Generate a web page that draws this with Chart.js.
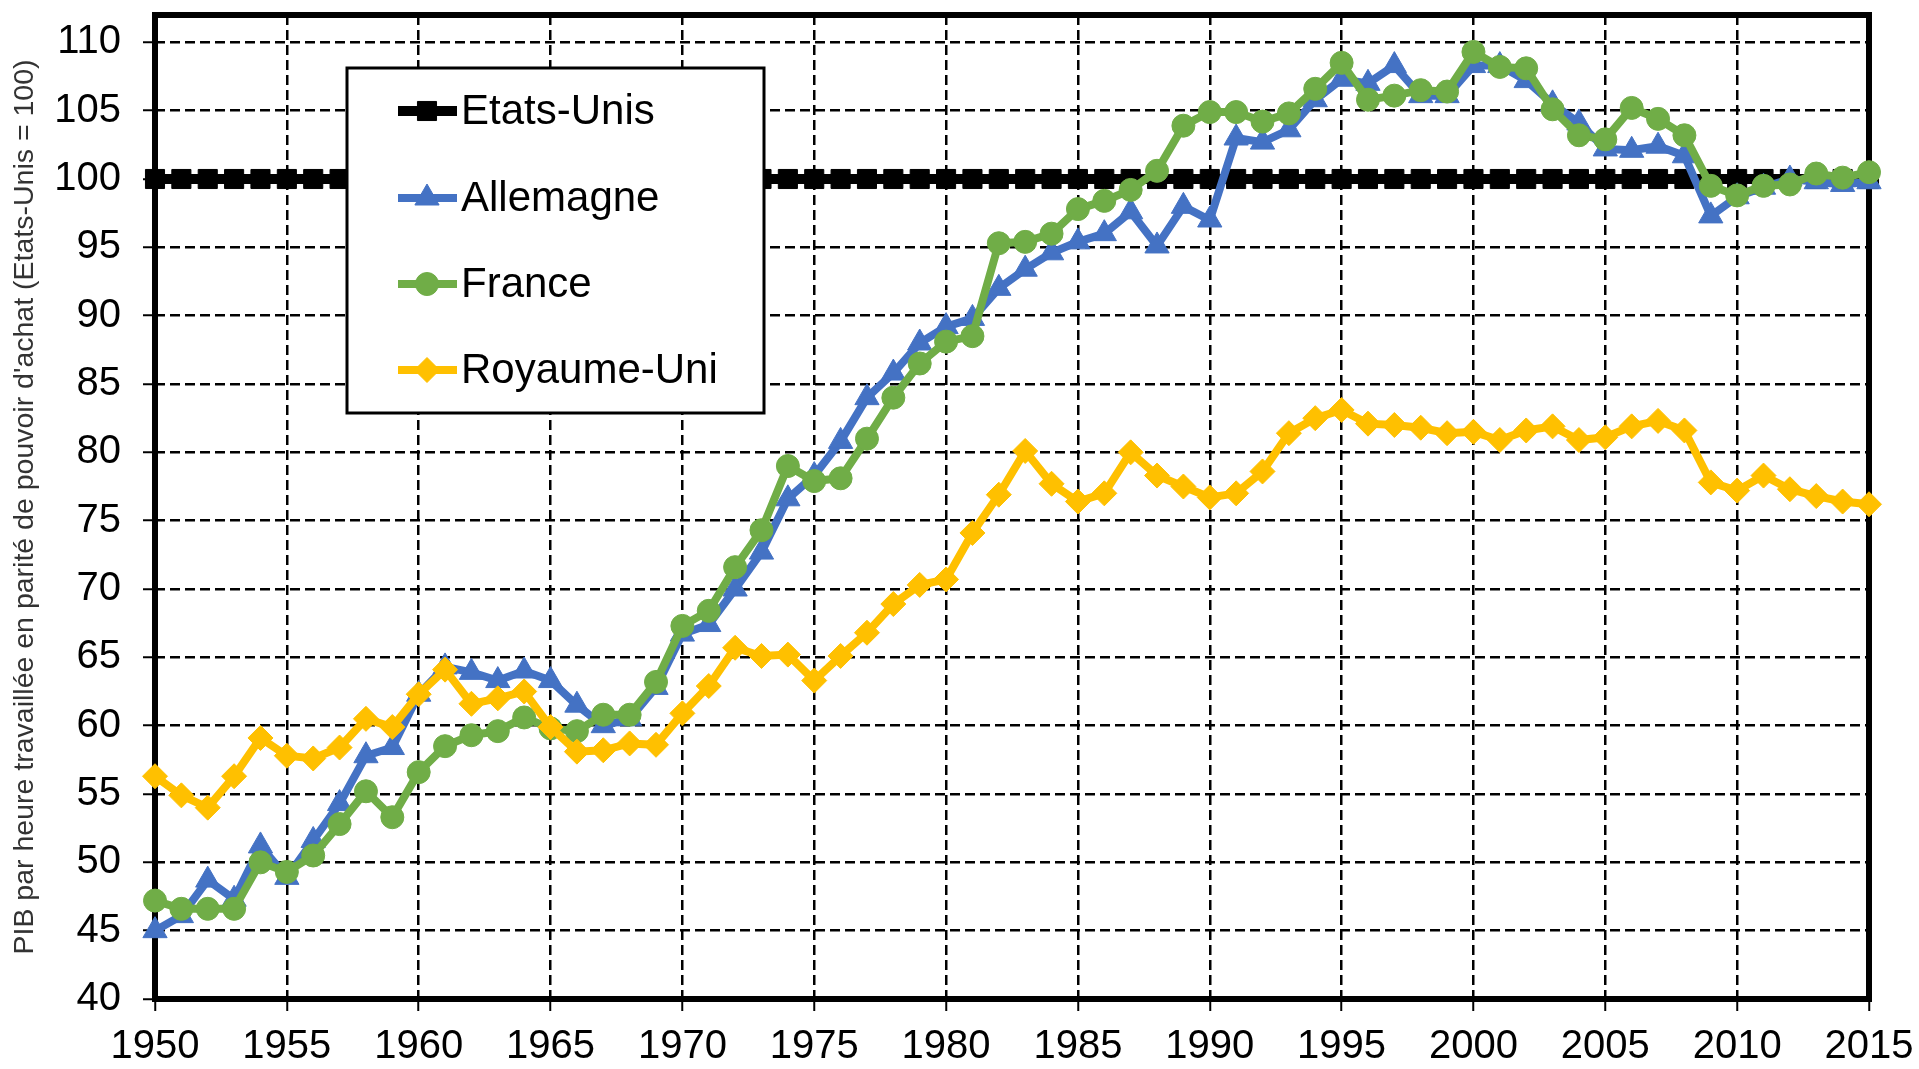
<!DOCTYPE html>
<html>
<head>
<meta charset="utf-8">
<script src="https://cdn.jsdelivr.net/npm/chart.js@4.4.1/dist/chart.umd.min.js"></script>
<style>
  html, body { margin: 0; padding: 0; background: #fff; }
  #wrap { width: 1919px; height: 1069px; position: relative; }
</style>
</head>
<body>
<div id="wrap"><canvas id="c"></canvas></div>
<script>
const years = [1950,1951,1952,1953,1954,1955,1956,1957,1958,1959,
  1960,1961,1962,1963,1964,1965,1966,1967,1968,1969,
  1970,1971,1972,1973,1974,1975,1976,1977,1978,1979,
  1980,1981,1982,1983,1984,1985,1986,1987,1988,1989,
  1990,1991,1992,1993,1994,1995,1996,1997,1998,1999,
  2000,2001,2002,2003,2004,2005,2006,2007,2008,2009,
  2010,2011,2012,2013,2014,2015];

const etatsUnis = [100,100,100,100,100,100,100,100,100,100,
  100,100,100,100,100,100,100,100,100,100,
  100,100,100,100,100,100,100,100,100,100,
  100,100,100,100,100,100,100,100,100,100,
  100,100,100,100,100,100,100,100,100,100,
  100,100,100,100,100,100,100,100,100,100,
  100,100,100,100,100,100];

const allemagne = [45.0,46.1,48.7,47.3,51.2,48.9,51.6,54.3,57.8,58.4,
  62.3,64.3,63.9,63.3,64.0,63.3,61.5,60.0,60.5,62.8,
  66.7,67.4,70.0,72.7,76.6,78.3,80.8,84.0,85.8,88.0,
  89.2,89.8,92.0,93.4,94.6,95.4,96.0,97.6,95.1,98.0,
  97.0,103.0,102.7,103.6,105.8,107.3,107.0,108.3,106.1,106.1,
  108.3,108.3,107.2,105.5,104.1,102.2,102.1,102.4,101.7,97.3,
  98.7,99.4,100.0,99.8,99.6,99.8];

const france = [47.2,46.6,46.6,46.6,50.0,49.3,50.5,52.8,55.2,53.3,
  56.6,58.5,59.3,59.6,60.6,59.8,59.6,60.8,60.8,63.2,
  67.3,68.4,71.6,74.3,79.0,77.9,78.1,81.0,84.0,86.5,
  88.1,88.5,95.3,95.4,96.0,97.8,98.4,99.2,100.6,103.9,
  104.9,104.9,104.2,104.8,106.6,108.5,105.8,106.1,106.5,106.4,
  109.3,108.2,108.1,105.1,103.2,102.9,105.2,104.4,103.2,99.5,
  98.8,99.5,99.6,100.4,100.1,100.5];

const royaumeUni = [56.3,54.9,54.0,56.3,59.1,57.8,57.6,58.4,60.5,59.9,
  62.3,64.1,61.6,62.0,62.5,59.9,58.1,58.2,58.7,58.6,
  60.9,62.9,65.7,65.1,65.2,63.3,65.1,66.8,68.9,70.3,
  70.7,74.1,76.9,80.1,77.7,76.4,77.0,80.0,78.3,77.5,
  76.7,77.0,78.6,81.4,82.5,83.1,82.1,82.0,81.8,81.4,
  81.5,80.9,81.6,81.9,80.9,81.1,81.9,82.3,81.6,77.8,
  77.2,78.3,77.3,76.8,76.4,76.2];

const seriesNames = ['Etats-Unis','Allemagne','France','Royaume-Uni'];
const yAxisTitle = "PIB par heure travaillée en parité de pouvoir d'achat (Etats-Unis = 100)";

const FONT = '"Liberation Sans", Arial, Helvetica, sans-serif';
const toXY = arr => arr.map((v, i) => ({x: years[i], y: v}));

const styles = [
  {color: '#000000', pointStyle: 'rect', radius: 13.5, width: 10, order: 4},
  {color: '#4472C4', pointStyle: 'triangle', radius: 14, width: 8, order: 3},
  {color: '#70AD47', pointStyle: 'circle', radius: 11.5, width: 8, order: 2},
  {color: '#FFC000', pointStyle: 'rectRot', radius: 12.5, width: 8, order: 1}
];
const values = [etatsUnis, allemagne, france, royaumeUni];

const datasets = values.map((arr, k) => ({
  label: seriesNames[k],
  data: toXY(arr),
  borderColor: styles[k].color,
  backgroundColor: styles[k].color,
  pointBackgroundColor: styles[k].color,
  pointBorderColor: styles[k].color,
  pointBorderWidth: 1,
  pointStyle: styles[k].pointStyle,
  pointRadius: styles[k].radius,
  pointHoverRadius: styles[k].radius,
  borderWidth: styles[k].width,
  tension: 0,
  order: styles[k].order,
  clip: false
}));

const framePlugin = {
  id: 'frame',
  beforeDatasetsDraw(chart) {
    const {ctx, chartArea: a} = chart;
    ctx.save();
    ctx.strokeStyle = '#000';
    ctx.lineWidth = 6;
    ctx.setLineDash([]);
    ctx.strokeRect(a.left, a.top, a.right - a.left, a.bottom - a.top);
    ctx.restore();
  }
};

const legendPlugin = {
  id: 'customLegend',
  afterDraw(chart) {
    const ctx = chart.ctx;
    const box = {x: 347, y: 68, w: 417, h: 345};
    ctx.save();
    ctx.setLineDash([]);
    ctx.fillStyle = '#fff';
    ctx.fillRect(box.x, box.y, box.w, box.h);
    ctx.strokeStyle = '#000';
    ctx.lineWidth = 3;
    ctx.strokeRect(box.x, box.y, box.w, box.h);
    const rows = [111, 198, 284, 370];
    seriesNames.forEach((name, k) => {
      const y = rows[k];
      const s = styles[k];
      ctx.strokeStyle = s.color;
      ctx.lineWidth = s.width;
      ctx.beginPath();
      ctx.moveTo(398, y);
      ctx.lineTo(457, y);
      ctx.stroke();
      ctx.fillStyle = s.color;
      ctx.strokeStyle = s.color;
      ctx.lineWidth = 1;
      Chart.helpers.drawPoint(ctx, {pointStyle: s.pointStyle, radius: s.radius, borderWidth: 1, rotation: 0}, 427, y);
      ctx.fillStyle = '#000';
      ctx.font = '42px ' + FONT;
      ctx.textBaseline = 'middle';
      ctx.textAlign = 'left';
      ctx.fillText(name, 461, y + 1);
    });
    ctx.restore();
  }
};

new Chart(document.getElementById('c'), {
  type: 'line',
  data: { datasets },
  options: {
    responsive: true,
    maintainAspectRatio: false,
    devicePixelRatio: 1,
    animation: false,
    layout: { padding: { top: 13, right: 50, left: 0, bottom: 0 } },
    plugins: { legend: { display: false }, tooltip: { enabled: false } },
    scales: {
      x: {
        type: 'linear',
        min: 1950, max: 2015,
        afterFit(scale) { scale.height = 70; scale.paddingLeft = 0; scale.paddingRight = 0; },
        ticks: {
          stepSize: 5,
          color: '#000',
          font: { family: FONT, size: 40 },
          padding: 12,
          maxRotation: 0,
          callback: v => String(v)
        },
        grid: {
          color: '#000', lineWidth: 2.5,
          tickLength: 12, tickColor: '#000', tickWidth: 2, tickBorderDash: []
        },
        border: { display: false, dash: [10, 5], width: 6, color: '#000' }
      },
      y: {
        type: 'linear',
        min: 40, max: 112,
        afterFit(scale) { scale.width = 155; scale.paddingTop = 0; scale.paddingBottom = 0; },
        ticks: {
          stepSize: 5,
          includeBounds: false,
          color: '#000',
          font: { family: FONT, size: 40 },
          padding: 22,
          callback: v => String(v)
        },
        grid: {
          color: '#000', lineWidth: 2.5,
          tickLength: 12, tickColor: '#000', tickWidth: 2, tickBorderDash: []
        },
        border: { display: false, dash: [10, 5], width: 6, color: '#000' },
        title: {
          display: true,
          text: yAxisTitle,
          color: '#333',
          font: { family: FONT, size: 28.5 },
          padding: { top: 8, bottom: 0 }
        }
      }
    }
  },
  plugins: [framePlugin, legendPlugin]
});
</script>
</body>
</html>
